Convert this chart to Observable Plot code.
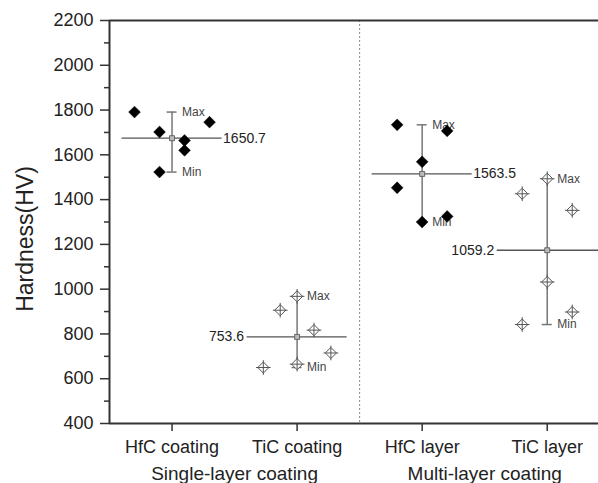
<!DOCTYPE html>
<html><head><meta charset="utf-8">
<script src="https://cdn.jsdelivr.net/npm/d3@7"></script>
<script src="https://cdn.jsdelivr.net/npm/@observablehq/plot@0.6"></script>
<style>
body{margin:0;background:#fff}
svg{font-family:"Liberation Sans",Arial,sans-serif}
</style>
</head><body><div id="chart"></div>
<script>
// ---- data ----
const categories = ["HfC coating", "TiC coating", "HfC layer", "TiC layer"];
const groupNames = ["Single-layer coating", "Multi-layer coating"];
const hfcCoating = [1791, 1702, 1523, 1664, 1620, 1746];
const ticCoating = [650, 906, 968, 665, 817, 715];
const hfcLayer   = [1734, 1453, 1569, 1300, 1707, 1325];
const ticLayer   = [1426, 842, 1493, 1032, 1352, 898];
const valueLabels = ["1650.7", "753.6", "1563.5", "1059.2"];
const yTicks = [400, 600, 800, 1000, 1200, 1400, 1600, 1800, 2000, 2200];
const yMinorTicks = [500, 700, 900, 1100, 1300, 1500, 1700, 1900, 2100];

// ---- layout (horizontal spread of points within each category) ----
const jitter = [
  [-0.3, -0.1, -0.1, 0.1, 0.1, 0.3],
  [-0.27, -0.135, 0, 0, 0.135, 0.27],
  [-0.2, -0.2, 0, 0, 0.2, 0.2],
  [-0.2, -0.2, 0, 0, 0.2, 0.2]
];
const meanReach = [0.4, 0.4, 0.4, 1.2];
const labelSide = ["right", "left", "right", "left"];

const series = [hfcCoating, ticCoating, hfcLayer, ticLayer];
const points = series.flatMap((vals, i) => vals.map((v, j) => ({cat: i, x: i + jitter[i][j], y: v, filled: i % 2 === 0})));
const stats = series.map((vals, i) => ({
  cat: i, min: d3.min(vals), max: d3.max(vals), mean: d3.mean(vals),
  label: valueLabels[i], side: labelSide[i], reach: meanReach[i]
}));
const filledPts = points.filter(d => d.filled);
const openPts = points.filter(d => !d.filled);

const axisColor = "#333";
const chart = Plot.plot({
  width: 598,
  height: 483,
  marginLeft: 109,
  marginRight: 0,
  marginTop: 20,
  marginBottom: 60,
  x: {type: "linear", domain: [-0.5, 3.41], axis: null},
  y: {domain: [400, 2200], axis: null},
  style: {fontFamily: "'Liberation Sans', Arial, sans-serif", background: "#fff"},
  marks: [
    Plot.ruleX([1.5], {stroke: "#888", strokeWidth: 1, strokeDasharray: "2,2"}),
    // mean lines
    Plot.ruleY(stats, {y: "mean", x1: d => d.cat - 0.4, x2: d => d.cat + d.reach, stroke: "#555", strokeWidth: 1.3, clip: true}),
    // whiskers
    Plot.ruleX(stats, {x: "cat", y1: "min", y2: "max", stroke: "#777", strokeWidth: 1.5}),
    Plot.ruleY(stats, {y: "max", x1: d => d.cat - 0.04, x2: d => d.cat + 0.04, stroke: "#777", strokeWidth: 1.5}),
    Plot.ruleY(stats, {y: "min", x1: d => d.cat - 0.04, x2: d => d.cat + 0.04, stroke: "#777", strokeWidth: 1.5}),
    Plot.text(stats, {x: "cat", y: "max", text: () => "Max", dx: 10, textAnchor: "start", fontSize: 12, fill: "#444"}),
    Plot.text(stats, {x: "cat", y: "min", text: () => "Min", dx: 10, textAnchor: "start", fontSize: 12, fill: "#444"}),
    // mean marker
    Plot.dot(stats, {x: "cat", y: "mean", symbol: "square", r: 2.8, fill: "#bbb", stroke: "#666", strokeWidth: 1}),
    // points
    Plot.dot(filledPts, {x: "x", y: "y", symbol: "diamond2", r: 5.3, fill: "#000", stroke: "#000", strokeWidth: 0.5}),
    Plot.dot(openPts, {x: "x", y: "y", symbol: "diamond2", r: 5, fill: "#fff", stroke: "#555", strokeWidth: 1}),
    Plot.dot(openPts, {x: "x", y: "y", symbol: "plus", r: 4.8, fill: "none", stroke: "#555", strokeWidth: 1}),
    // value labels
    Plot.text(stats.filter(d => d.side === "right"), {x: d => d.cat + 0.4, y: "mean", text: "label", textAnchor: "start", dx: 1, fontSize: 14, fill: "#222"}),
    Plot.text(stats.filter(d => d.side === "left"), {x: d => d.cat - 0.4, y: "mean", text: "label", textAnchor: "end", dx: -3, fontSize: 14, fill: "#222"}),
    // frame
    Plot.ruleY([2200], {stroke: axisColor, strokeWidth: 2}),
    Plot.ruleY([400], {stroke: axisColor, strokeWidth: 2}),
    Plot.ruleX([-0.5], {stroke: axisColor, strokeWidth: 2}),
    // axes
    Plot.axisY({ticks: yTicks, tickSize: 9, tickPadding: 7, fontSize: 18, label: null, tickFormat: d => String(d), stroke: axisColor, strokeWidth: 1.5, fill: "#222"}),
    Plot.axisY({ticks: yMinorTicks, tickSize: 5, tickFormat: () => "", label: null, stroke: axisColor, strokeWidth: 1.5}),
    Plot.axisX({ticks: [0, 1, 2, 3], tickFormat: i => categories[i], tickSize: 8, tickPadding: 9, fontSize: 18, label: null, stroke: axisColor, strokeWidth: 1.5, fill: "#222"}),
    Plot.text(groupNames, {x: (d, i) => 2 * i + 0.5, text: d => d, frameAnchor: "bottom", dy: 56, fontSize: 19, fill: "#222"}),
    Plot.text(["Hardness(HV)"], {text: d => d, frameAnchor: "left", textAnchor: "middle", rotate: -90, dx: -84, dy: 17, fontSize: 23, fill: "#222"})
  ]
});
document.getElementById("chart").appendChild(chart);
</script>
</body></html>
